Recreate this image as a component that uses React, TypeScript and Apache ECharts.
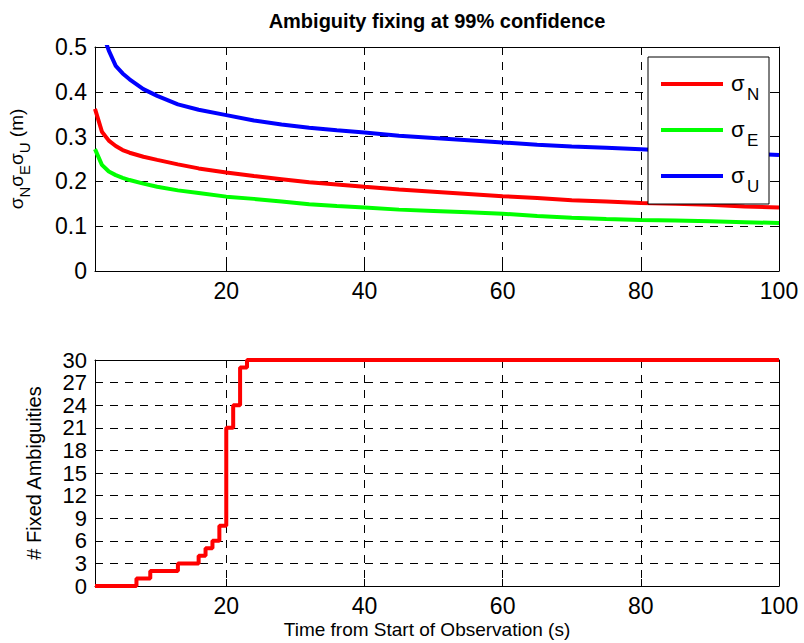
import { useEffect, useRef } from "react";
import * as echarts from "echarts";

// ---- data ----
const timeTop = [1, 2, 3, 4, 5, 6, 8, 10, 13, 16, 20, 24, 28, 32, 36, 40, 45, 50, 55, 60, 65, 70, 75, 80, 85, 90, 95, 100];
const sigmaN = [0.362, 0.311, 0.291, 0.279, 0.27, 0.264, 0.255, 0.248, 0.238, 0.229, 0.22, 0.212, 0.205, 0.198, 0.193, 0.188, 0.182, 0.177, 0.172, 0.167, 0.163, 0.158, 0.155, 0.152, 0.15, 0.148, 0.144, 0.142];
const sigmaE = [0.272, 0.237, 0.222, 0.214, 0.208, 0.203, 0.195, 0.188, 0.18, 0.174, 0.166, 0.161, 0.155, 0.149, 0.145, 0.142, 0.137, 0.134, 0.131, 0.128, 0.123, 0.119, 0.116, 0.114, 0.113, 0.111, 0.109, 0.107];
const sigmaU = [0.6, 0.535, 0.492, 0.458, 0.441, 0.428, 0.406, 0.391, 0.372, 0.36, 0.348, 0.336, 0.327, 0.32, 0.314, 0.309, 0.302, 0.297, 0.292, 0.287, 0.282, 0.278, 0.275, 0.272, 0.268, 0.265, 0.262, 0.259];

const stepTimes = [1, 7, 9, 13, 16, 17, 18, 19, 20, 21, 22, 23, 100];
const stepCounts = [0, 1, 2, 3, 4, 5, 6, 8, 21, 24, 29, 30, 30];

const xTicks = [20, 40, 60, 80, 100];
const legendNames = ["N", "E", "U"];
const seriesColors = ["#ff0000", "#00ff00", "#0000ff"];

const titleText = "Ambiguity fixing at 99% confidence";
const xName = "Time from Start of Observation (s)";
const yNameBottom = "# Fixed Ambiguities";

const FONT = "'Liberation Sans', Arial, Helvetica, sans-serif";

function zip(xs: number[], ys: number[]) {
  return xs.map((x, i) => [x, ys[i]]);
}

export default function App() {
  const ref = useRef<HTMLDivElement>(null);

  useEffect(() => {
    if (!ref.current) return;
    const chart = echarts.init(ref.current, undefined, { renderer: "svg" });

    const gridLine = { show: true, lineStyle: { color: "#000", type: [8, 7], width: 1 } };
    const axisLine = { show: true, onZero: false, lineStyle: { color: "#000", width: 1 } };
    const tick = { show: true, inside: true, length: 7, lineStyle: { color: "#000", width: 1 } };

    const xMain = (gridIndex: number, extra: any = {}) => ({
      type: "value",
      gridIndex,
      min: 1,
      max: 100,
      position: "bottom",
      axisLine,
      axisTick: { ...tick, customValues: xTicks },
      axisLabel: { show: true, customValues: xTicks, fontSize: 23, color: "#000", fontFamily: FONT, margin: 8 },
      splitLine: gridLine,
      ...extra,
    });
    const xTop = (gridIndex: number) => ({
      type: "value",
      gridIndex,
      min: 1,
      max: 100,
      position: "top",
      axisLine,
      axisTick: { ...tick, customValues: xTicks },
      axisLabel: { show: false },
      splitLine: { show: false },
    });
    const yMain = (gridIndex: number, max: number, interval: number, labelSize: number, extra: any = {}) => ({
      type: "value",
      gridIndex,
      min: 0,
      max,
      interval,
      position: "left",
      axisLine,
      axisTick: tick,
      axisLabel: {
        show: true,
        showMinLabel: true,
        showMaxLabel: true,
        hideOverlap: false,
        fontSize: labelSize,
        lineHeight: 20,
        color: "#000",
        fontFamily: FONT,
        margin: 8,
      },
      splitLine: gridLine,
      ...extra,
    });
    const yRight = (gridIndex: number, max: number, interval: number) => ({
      type: "value",
      gridIndex,
      min: 0,
      max,
      interval,
      position: "right",
      axisLine,
      axisTick: tick,
      axisLabel: { show: false },
      splitLine: { show: false },
    });

    const legendRows = [84, 130, 176];
    const legendGraphics: any[] = [
      {
        type: "rect",
        z: 100,
        shape: { x: 648, y: 57, width: 121, height: 147 },
        style: { fill: "#fff", stroke: "#000", lineWidth: 1 },
      },
    ];
    legendRows.forEach((y, i) => {
      legendGraphics.push({
        type: "line",
        z: 101,
        shape: { x1: 661, y1: y, x2: 723, y2: y },
        style: { stroke: seriesColors[i], lineWidth: 4 },
      });
      legendGraphics.push({
        type: "text",
        z: 101,
        x: 731,
        y: y - 1,
        style: { text: "σ", fontSize: 22, fontFamily: FONT, fill: "#000", align: "left", verticalAlign: "middle" },
      });
      legendGraphics.push({
        type: "text",
        z: 101,
        x: 747,
        y: y + 10,
        style: { text: legendNames[i], fontSize: 17, fontFamily: FONT, fill: "#000", align: "left", verticalAlign: "middle" },
      });
    });

    const option: any = {
      animation: false,
      backgroundColor: "#fff",
      grid: [
        { left: 95, top: 47, width: 684, height: 224, containLabel: false, outerBoundsMode: "none" },
        { left: 95, top: 360, width: 684, height: 226, containLabel: false, outerBoundsMode: "none" },
      ],
      xAxis: [
        xMain(0),
        xTop(0),
        xMain(1, {
          name: xName,
          nameLocation: "middle",
          nameGap: 34,
          nameTextStyle: { fontSize: 19, color: "#000", fontFamily: FONT, padding: [0, 20, 0, 0] },
        }),
        xTop(1),
      ],
      yAxis: [
        yMain(0, 0.5, 0.1, 23, {
          name: "σ{s|N}σ{s|E}σ{s|U} (m)",
          nameLocation: "middle",
          nameGap: 63,
          nameTextStyle: {
            fontSize: 19,
            lineHeight: 32,
            color: "#000",
            fontFamily: FONT,
            rich: {
              s: { fontSize: 15, lineHeight: 15, verticalAlign: "bottom", color: "#000", fontFamily: FONT },
            },
          },
        }),
        yRight(0, 0.5, 0.1),
        yMain(1, 30, 3, 22, {
          name: yNameBottom,
          nameLocation: "middle",
          nameGap: 51,
          nameTextStyle: { fontSize: 20, color: "#000", fontFamily: FONT },
        }),
        yRight(1, 30, 3),
      ],
      series: [
        { name: "σN", type: "line", xAxisIndex: 0, yAxisIndex: 0, data: zip(timeTop, sigmaN), showSymbol: false, lineStyle: { color: seriesColors[0], width: 4 }, itemStyle: { color: seriesColors[0] }, clip: true, z: 3 },
        { name: "σE", type: "line", xAxisIndex: 0, yAxisIndex: 0, data: zip(timeTop, sigmaE), showSymbol: false, lineStyle: { color: seriesColors[1], width: 4 }, itemStyle: { color: seriesColors[1] }, clip: true, z: 3 },
        { name: "σU", type: "line", xAxisIndex: 0, yAxisIndex: 0, data: zip(timeTop, sigmaU), showSymbol: false, lineStyle: { color: seriesColors[2], width: 4 }, itemStyle: { color: seriesColors[2] }, clip: true, z: 3 },
        { name: "fixed", type: "line", step: "end", xAxisIndex: 2, yAxisIndex: 2, data: zip(stepTimes, stepCounts), showSymbol: false, lineStyle: { color: "#ff0000", width: 4 }, itemStyle: { color: "#ff0000" }, clip: false, z: 3 },
      ],
      graphic: [
        {
          type: "text",
          z: 100,
          x: 437,
          y: 20.5,
          style: { text: titleText, fontSize: 20, fontWeight: "bold", fontFamily: FONT, fill: "#000", align: "center", verticalAlign: "middle" },
        },
        ...legendGraphics,
      ],
    };

    chart.setOption(option);
    return () => chart.dispose();
  }, []);

  return (
    <div
      ref={ref}
      style={{ position: "absolute", left: 0, top: 0, width: 804, height: 643, background: "#fff" }}
    />
  );
}
